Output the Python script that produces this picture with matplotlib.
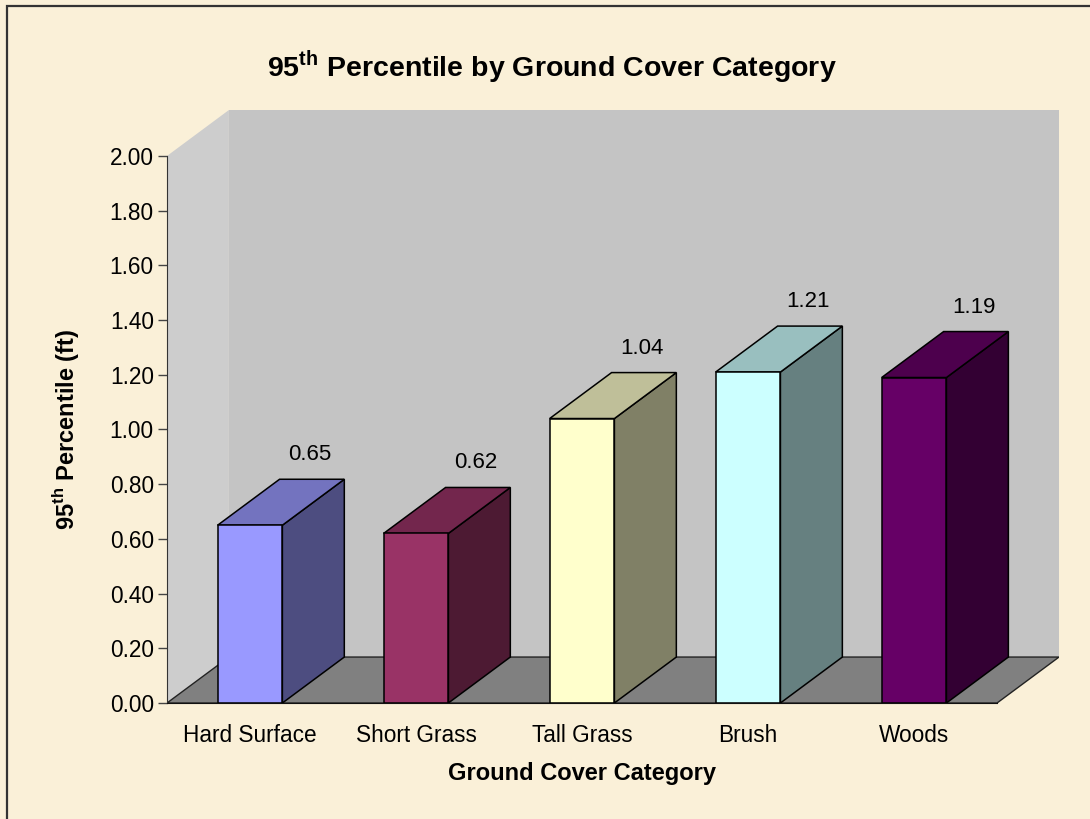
import numpy as np
import matplotlib
matplotlib.use('Agg')
import matplotlib.pyplot as plt
from matplotlib import colors as mcolors
from matplotlib.patches import Polygon, Rectangle

plt.rcParams['font.family'] = ['Liberation Sans', 'DejaVu Sans']
plt.rcParams['mathtext.fontset'] = 'custom'
plt.rcParams['mathtext.rm'] = 'Liberation Sans'
plt.rcParams['mathtext.bf'] = 'Liberation Sans:bold'

# data
categories = ['Hard Surface', 'Short Grass', 'Tall Grass', 'Brush', 'Woods']
values = [0.65, 0.62, 1.04, 1.21, 1.19]
front_colors = ['#9999FF', '#993366', '#FFFFCC', '#CCFFFF', '#660066']
yticks = [0.0, 0.2, 0.4, 0.6, 0.8, 1.0, 1.2, 1.4, 1.6, 1.8, 2.0]

W, H = 1090, 819
ymax = 2.0
dx, dy = 0.373, 0.168      # fake 3d depth in data units
bar_w = 0.39

fig = plt.figure(figsize=(W / 100, H / 100), dpi=100)
fig.patch.set_facecolor('#FAF0D8')

# outer chart border (runs off right / bottom edge like the original)
fig.add_artist(Rectangle((7 / W, -0.05), 1.1, 1 - 6 / H + 0.05,
                         transform=fig.transFigure, fill=False,
                         edgecolor='#333333', lw=1.6))

ax = fig.add_axes([167 / W, 116 / H, 892 / W, 593 / H])
ax.set_xlim(0, len(categories) + dx)
ax.set_ylim(0, ymax + dy)
ax.patch.set_visible(False)

n = len(categories)


def shade(c, f):
    r, g, b = mcolors.to_rgb(c)
    return (r * f, g * f, b * f)


# walls and floor
ax.add_patch(Polygon([(0, 0), (dx, dy), (dx, ymax + dy), (0, ymax)],
                     closed=True, facecolor='#CDCDCD', edgecolor='none'))
ax.add_patch(Polygon([(dx, dy), (n + dx, dy), (n + dx, ymax + dy),
                      (dx, ymax + dy)],
                     closed=True, facecolor='#C4C4C4', edgecolor='none'))
ax.add_patch(Polygon([(0, 0), (n, 0), (n + dx, dy), (dx, dy)],
                     closed=True, facecolor='#808080', edgecolor='#222222',
                     lw=1.0))

# bars
for i, (v, c) in enumerate(zip(values, front_colors)):
    x0 = i + (1 - bar_w) / 2
    x1 = x0 + bar_w
    front = [(x0, 0), (x1, 0), (x1, v), (x0, v)]
    top = [(x0, v), (x1, v), (x1 + dx, v + dy), (x0 + dx, v + dy)]
    side = [(x1, 0), (x1 + dx, dy), (x1 + dx, v + dy), (x1, v)]
    ax.add_patch(Polygon(side, closed=True, facecolor=shade(c, 0.5),
                         edgecolor='black', lw=1.1))
    ax.add_patch(Polygon(top, closed=True, facecolor=shade(c, 0.75),
                         edgecolor='black', lw=1.1))
    ax.add_patch(Polygon(front, closed=True, facecolor=c,
                         edgecolor='black', lw=1.1))
    ax.annotate('%.2f' % v, xy=(i + 0.5 + dx, v + dy), xytext=(-2, 19),
                textcoords='offset pixels', ha='center', va='baseline',
                fontsize=16)

# axes cosmetics
for s in ['top', 'right']:
    ax.spines[s].set_visible(False)
ax.spines['left'].set_bounds(0, ymax)
ax.spines['bottom'].set_bounds(0, n)
ax.spines['left'].set_color('#333333')
ax.spines['bottom'].set_color('#111111')
ax.set_yticks(yticks)
ax.set_yticklabels(['%.2f' % t for t in yticks])
ax.tick_params(axis='y', length=6.5, width=1, color='#444444', pad=3,
               labelsize=16.3)
ax.set_xticks(np.arange(n) + 0.5)
ax.set_xticklabels(categories)
ax.tick_params(axis='x', length=0, pad=15, labelsize=16.3)

ax.set_xlabel('Ground Cover Category', fontsize=17, fontweight='bold')
ax.xaxis.set_label_coords(2.5 / (n + dx), -0.1)
ax.set_ylabel(r'95$^{\mathbf{th}}$ Percentile (ft)', fontsize=17,
              fontweight='bold')
ax.yaxis.set_label_coords(-0.095, 1.0 / (ymax + dy))

fig.text(552 / W, 1 - 77 / H,
         r'95$^{\mathbf{th}}$ Percentile by Ground Cover Category',
         ha='center', va='baseline', fontsize=20.5, fontweight='bold')

fig.savefig('out.png', dpi=100, facecolor=fig.get_facecolor())
